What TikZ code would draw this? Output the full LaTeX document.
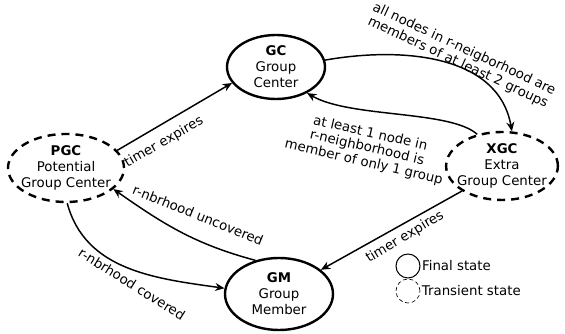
\documentclass[tikz,border=0pt]{standalone}
\usepackage{fontspec}
\setmainfont{DejaVu Sans}
\usetikzlibrary{shapes.geometric,arrows.meta,positioning}

\tikzset{
	stnode/.style={ellipse,draw=black,line width=1.8pt,align=center,inner xsep=-4pt,inner ysep=-3pt},
	finalst/.style={stnode},
	transst/.style={stnode,dash pattern=on 6pt off 4.5pt},
	trans/.style={-{Stealth[length=7pt,width=6pt]},line width=1.1pt},
	lbl/.style={align=center,inner sep=0pt,font=\fontsize{10}{11}\selectfont}
}

\begin{document}
\begin{tikzpicture}[x=0.75pt,y=-0.75pt]
	\useasboundingbox (0,0) rectangle (565,334);
	%% the states
	\node[finalst,minimum width=73.5pt,minimum height=48pt] (gc) at (276,67) {\textbf{GC}\\Group\\Center};
	\node[transst,minimum width=87pt,minimum height=51pt] (pgc) at (66,168) {\textbf{PGC}\\Potential\\Group Center};
	\node[transst,minimum width=82.5pt,minimum height=51pt] (xgc) at (502,166) {\textbf{XGC}\\Extra\\Group Center};
	\node[finalst,minimum width=81pt,minimum height=54pt] (gm) at (279,294) {\textbf{GM}\\Group\\Member};
	%% the transitions
	\draw[trans] (pgc.19) -- (gc.200);
	\draw[trans] (gc.8) to[out=10,in=100] (xgc.74);
	\draw[trans] (xgc.128) .. controls (450,110) and (350,118) .. (gc.-40);
	\draw[trans] (xgc.212) -- (gm.30);
	\draw[trans] (gm.125) to[out=165,in=-35] (pgc.-24);
	\draw[trans] (pgc.-88) to[out=-75,in=172] (gm.174);
	%% the labels
	\node[lbl,rotate=30] (timerpgc) at (164,142) {timer expires};
	\node[lbl,rotate=-25] (allnodes) at (461,56) {all nodes in r-neigborhood are\\members of at least 2 groups};
	\node[lbl,rotate=-13] (atleast) at (367,148) {at least 1 node in\\r-neighborhood is\\member of only 1 group};
	\node[lbl,rotate=31] (timerxgc) at (405,237) {timer expires};
	\node[lbl,rotate=-22] (uncov) at (198,215) {r-nbrhood uncovered};
	\node[lbl,rotate=-32] (cov) at (132,284) {r-nbrhood covered};
	%% the legend
	\node[circle,draw,line width=0.75pt,minimum size=18pt,inner sep=0pt] (fin) at (408,266) {};
	\node[right=0pt of fin,inner sep=1pt] (fintxt) {Final state};
	\node[circle,draw,densely dashed,line width=0.5pt,minimum size=18pt,inner sep=0pt] (tra) at (408,291) {};
	\node[right=0pt of tra,inner sep=1pt] (tratxt) {Transient state};
\end{tikzpicture}
\end{document}
